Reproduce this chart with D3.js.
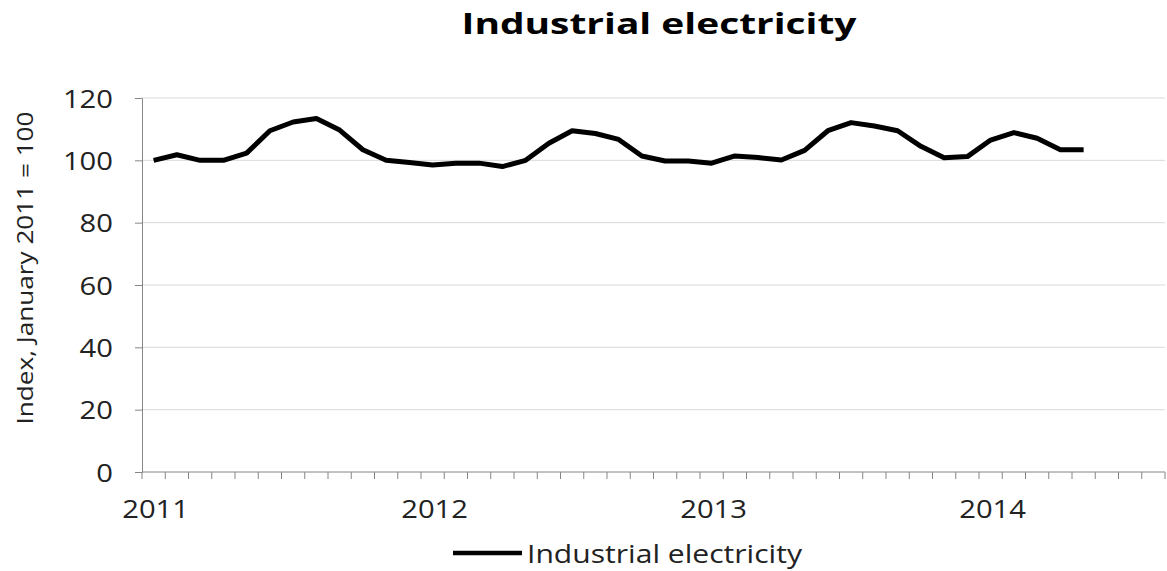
<!DOCTYPE html>
<html>
<head>
  <script src="https://cdn.jsdelivr.net/npm/d3@7"></script>
  <style>
    body { margin: 0; background: #fff; }
    text { font-family: "Open Sans", sans-serif; fill: #222; }
  </style>
</head>
<body>
  <script>
    var width = 1167, height = 571;

    // monthly categories, Jan 2011 .. Aug 2014
    var years = ["2011", "2012", "2013", "2014"];
    var months = [];
    years.forEach(function (y) {
      for (var m = 1; m <= 12; m++) months.push(y + "-" + m);
    });
    months = months.slice(0, 44);

    // index values (Jan 2011 .. May 2014)
    var industrial = [
      100, 101.8, 100, 100, 102.3, 109.5, 112.3, 113.4, 109.7, 103.4, 100, 99.3,
      98.5, 99.1, 99.1, 98.0, 100, 105.5, 109.5, 108.6, 106.7, 101.4, 99.8, 99.8,
      99.1, 101.4, 100.9, 100.1, 103.2, 109.5, 112.1, 111.0, 109.5, 104.5, 100.8, 101.2,
      106.5, 108.9, 107.1, 103.4, 103.4
    ];

    var yTicks = [0, 20, 40, 60, 80, 100, 120];

    // the reference text is a little wider than Open Sans, stretch per character
    var digitW = 16.7;

    var svg = d3.select("body")
      .append("svg")
      .attr("width", width)
      .attr("height", height);

    var x = d3.scaleBand()
      .domain(months)
      .range([142, 1165]);

    var y = d3.scaleLinear()
      .domain([0, 120])
      .range([472, 98]);

    // gridlines
    svg.append("g")
      .selectAll("line")
      .data(yTicks.filter(d => d > 0))
      .enter().append("line")
      .attr("x1", 142)
      .attr("x2", 1165)
      .attr("y1", d => y(d))
      .attr("y2", d => y(d))
      .attr("stroke", "#d9d9d9")
      .attr("stroke-width", 1);

    // y axis
    var yAxis = svg.append("g")
      .attr("transform", "translate(142,0)")
      .call(d3.axisLeft(y).tickValues(yTicks).tickSize(7).tickPadding(22));
    yAxis.select(".domain").attr("stroke", "#868686");
    yAxis.selectAll(".tick line").attr("stroke", "#868686");
    yAxis.selectAll(".tick text")
      .attr("dy", "0.36em")
      .attr("textLength", d => String(d).length * digitW)
      .attr("lengthAdjust", "spacingAndGlyphs")
      .style("font-size", "25px")
      .style("fill", "#222");

    // x axis: ticks between months, labels at January
    var xAxis = svg.append("g")
      .attr("transform", "translate(0,472)");
    xAxis.append("line")
      .attr("x1", 142).attr("x2", 1165)
      .attr("stroke", "#868686");
    xAxis.selectAll(".mtick")
      .data(months)
      .enter().append("line")
      .attr("class", "mtick")
      .attr("x1", d => x(d))
      .attr("x2", d => x(d))
      .attr("y1", 0)
      .attr("y2", 7)
      .attr("stroke", "#868686");
    xAxis.append("line")
      .attr("x1", 1165).attr("x2", 1165)
      .attr("y1", 0).attr("y2", 7)
      .attr("stroke", "#868686");
    xAxis.selectAll(".ylabel")
      .data(years)
      .enter().append("text")
      .attr("class", "ylabel")
      .attr("x", d => x(d + "-1") + x.bandwidth() / 2 + 2)
      .attr("y", 46)
      .attr("text-anchor", "middle")
      .attr("textLength", d => d.length * digitW)
      .attr("lengthAdjust", "spacingAndGlyphs")
      .style("font-size", "25px")
      .text(d => d);

    // line
    var line = d3.line()
      .x((d, i) => x(months[i]) + x.bandwidth() / 2)
      .y(d => y(d));

    svg.append("path")
      .datum(industrial)
      .attr("fill", "none")
      .attr("stroke", "#000")
      .attr("stroke-width", 5)
      .attr("stroke-linejoin", "round")
      .attr("d", line);

    // title
    svg.append("text")
      .attr("x", 659)
      .attr("y", 34)
      .attr("text-anchor", "middle")
      .attr("textLength", 395)
      .attr("lengthAdjust", "spacingAndGlyphs")
      .style("font-size", "29px")
      .style("font-weight", "bold")
      .style("fill", "#000")
      .text("Industrial electricity");

    // y axis title
    svg.append("text")
      .attr("transform", "translate(33,268) rotate(-90)")
      .attr("text-anchor", "middle")
      .attr("textLength", 313)
      .attr("lengthAdjust", "spacingAndGlyphs")
      .style("font-size", "22px")
      .text("Index, January 2011 = 100");

    // legend
    var legend = svg.append("g");
    legend.append("line")
      .attr("x1", 453).attr("x2", 522)
      .attr("y1", 553).attr("y2", 553)
      .attr("stroke", "#000")
      .attr("stroke-width", 4.5);
    legend.append("text")
      .attr("x", 527)
      .attr("y", 563)
      .attr("textLength", 275)
      .attr("lengthAdjust", "spacingAndGlyphs")
      .style("font-size", "25px")
      .text("Industrial electricity");
  </script>
</body>
</html>
